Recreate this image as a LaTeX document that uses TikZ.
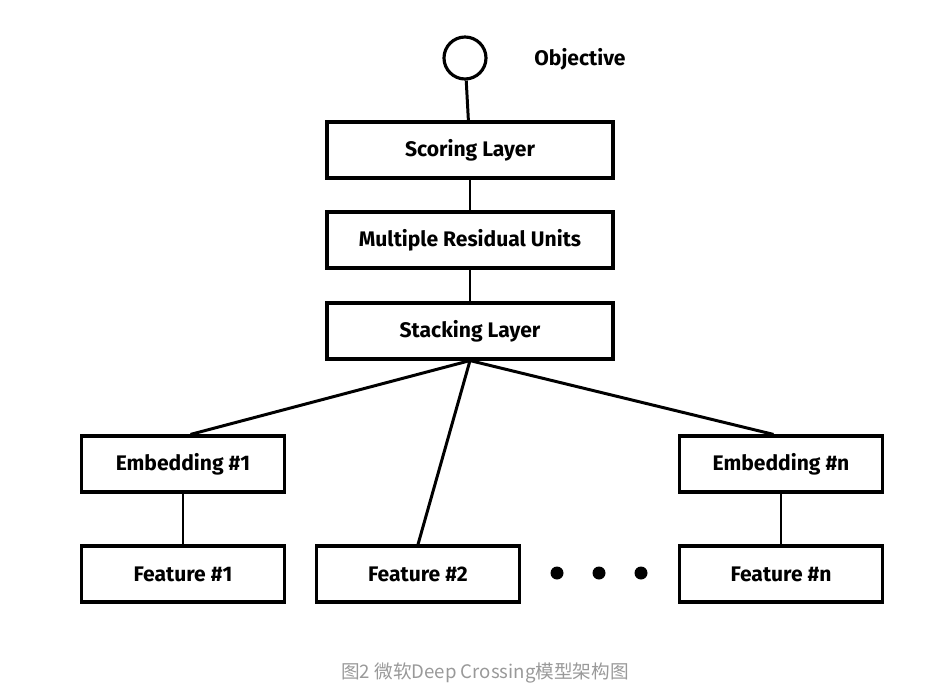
\documentclass[tikz,border=0pt]{standalone}
\usepackage{fontspec}
\setmainfont{Fira Sans}
\newfontfamily\cjkfont{Noto Sans CJK SC}
\usepackage{tikz}

\tikzset{
  layer/.style={draw, line width=1.8pt, minimum width=5.72cm, minimum height=1.12cm, font=\bfseries\large},
  side/.style={layer, minimum width=4.06cm},
  link/.style={line width=1.7pt},
}

\begin{document}
\begin{tikzpicture}[x=0.02cm, y=-0.02cm]

    \useasboundingbox (0,0) rectangle (948,690);

    % Objective
    \node[draw, circle, line width=1.8pt, minimum size=0.84cm] (obj) at (465,58) {};
    \node[font=\bfseries\large] (objtxt) at (580,59) {Objective};

    % middle column
    \node[layer] (score) at (470,150) {Scoring Layer};
    \node[layer] (resid) at (470,240) {Multiple Residual Units};
    \node[layer] (stack) at (470,331) {Stacking Layer};

    % embeddings
    \node[side] (emb1) at (183,464) {Embedding \#1};
    \node[side] (embn) at (781,464) {Embedding \#n};

    % features
    \node[side] (feat1) at (183,574) {Feature \#1};
    \node[side] (feat2) at (418,574) {Feature \#2};
    \node[side] (featn) at (781,574) {Feature \#n};

    \foreach \x/\name in {557/d1, 599/d2, 641/d3} {
      \fill (\x,573) circle (0.13cm) coordinate (\name);
    }

    % Connections
    \draw[link] (obj) -- (score);
    \draw[link] (score) -- (resid);
    \draw[link] (resid) -- (stack);
    \draw[link] (stack.south) -- ([xshift=0.15cm]emb1.north);
    \draw[link] (stack.south) -- (feat2.north);
    \draw[link] (stack.south) -- ([xshift=-0.15cm]embn.north);
    \draw[link] (emb1) -- (feat1);
    \draw[link] (embn) -- (featn);

    \node[text=gray!80, font=\cjkfont\fontsize{10.6}{13}\selectfont] (cap) at (485,673) {图2 微软Deep Crossing模型架构图};
  \end{tikzpicture}
\end{document}
